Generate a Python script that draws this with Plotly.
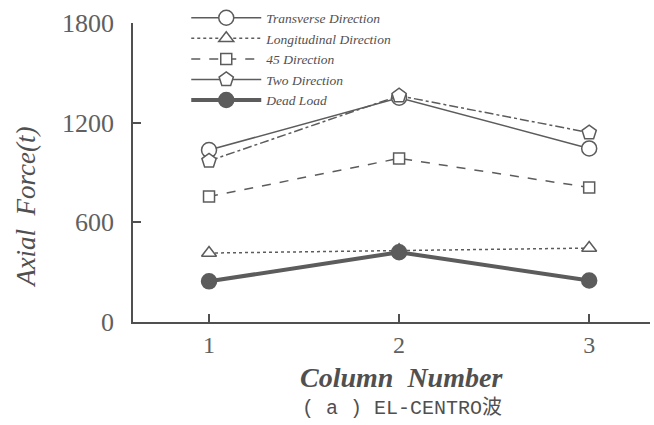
import plotly.graph_objects as go

columns = [1, 2, 3]
transverse = [1035, 1350, 1045]
longitudinal = [415, 432, 445]
dir45 = [755, 985, 810]
two_dir = [970, 1362, 1140]
dead_load = [245, 420, 250]
y_ticks = [0, 600, 1200, 1800]
x_ticks = [1, 2, 3]

INK = "#505050"
LINE = "#5c5c5c"
SERIF = "Liberation Serif, Times New Roman, serif"

fig = go.Figure()

def add(name, y, dash, symbol, size, width=1.5, fill="white", legend_dash=None):
    fig.add_trace(go.Scatter(
        x=columns, y=y, mode="lines+markers", name=name,
        line=dict(color=LINE, width=width, dash=dash),
        marker=dict(symbol=symbol, size=size, color=fill,
                    line=dict(color=LINE, width=1.5)),
        showlegend=legend_dash is None,
        cliponaxis=False,
    ))
    if legend_dash is not None:
        fig.add_trace(go.Scatter(
            x=[None], y=[None], mode="lines+markers", name=name,
            line=dict(color=LINE, width=width, dash=legend_dash),
            marker=dict(symbol=symbol, size=size, color=fill,
                        line=dict(color=LINE, width=1.5)),
        ))

add("Transverse Direction", transverse, "solid", "circle", 15)
add("Longitudinal Direction", longitudinal, "dot", "triangle-up", 13)
add("45 Direction", dir45, "dash", "square", 11)
add("Two Direction", two_dir, "dashdot", "pentagon", 15, legend_dash="solid")
add("Dead Load", dead_load, "solid", "circle", 15, width=4, fill=LINE)

fig.update_layout(
    width=654, height=425,
    margin=dict(l=133, r=4, t=22, b=103),
    paper_bgcolor="white", plot_bgcolor="white",
    font=dict(family=SERIF, color=INK),
    legend=dict(
        x=0.103, y=1.065, xanchor="left", yanchor="top",
        bgcolor="rgba(0,0,0,0)",
        font=dict(family=SERIF, size=13.5, color=INK, style="italic"),
        tracegroupgap=0, itemwidth=70,
    ),
    xaxis=dict(
        range=[0.6, 3.32], tickvals=x_ticks, ticktext=[str(v) for v in x_ticks],
        showgrid=False, zeroline=False, showline=True, linecolor=INK, linewidth=1.5,
        ticks="inside", ticklen=8, tickcolor=INK, tickwidth=1.5,
        tickfont=dict(family=SERIF, size=24, color="#606060"),
        ticklabelstandoff=0,
    ),
    yaxis=dict(
        range=[0, 1800], tickvals=y_ticks, ticktext=[str(v) for v in y_ticks],
        showgrid=False, zeroline=False, showline=True, linecolor=INK, linewidth=1.5,
        ticks="inside", ticklen=8, tickcolor=INK, tickwidth=1.5,
        tickfont=dict(family=SERIF, size=26, color="#606060"),
        ticklabelstandoff=12,
    ),
    annotations=[
        dict(text="Axial  Force(t)", xref="paper", yref="paper", x=-0.207, y=0.385,
             xanchor="center", yanchor="middle",
             textangle=-90, showarrow=False,
             font=dict(family=SERIF, size=27, color=INK, style="italic")),
        dict(text="<b>Column  Number</b>", xref="paper", yref="paper", x=0.52, y=-0.185,
             xanchor="center", yanchor="middle", showarrow=False,
             font=dict(family=SERIF, size=28, color=INK, style="italic")),
        dict(text="( a ) EL-CENTRO波", xref="paper", yref="paper", x=0.52, y=-0.287,
             xanchor="center", yanchor="middle", showarrow=False,
             font=dict(family="Liberation Mono, Noto Sans CJK SC", size=20, color=INK)),
    ],
)

fig.write_html(
    "out.html",
    config={"displayModeBar": False},
    post_script="document.body.style.margin='0';document.body.style.overflow='hidden';",
)
